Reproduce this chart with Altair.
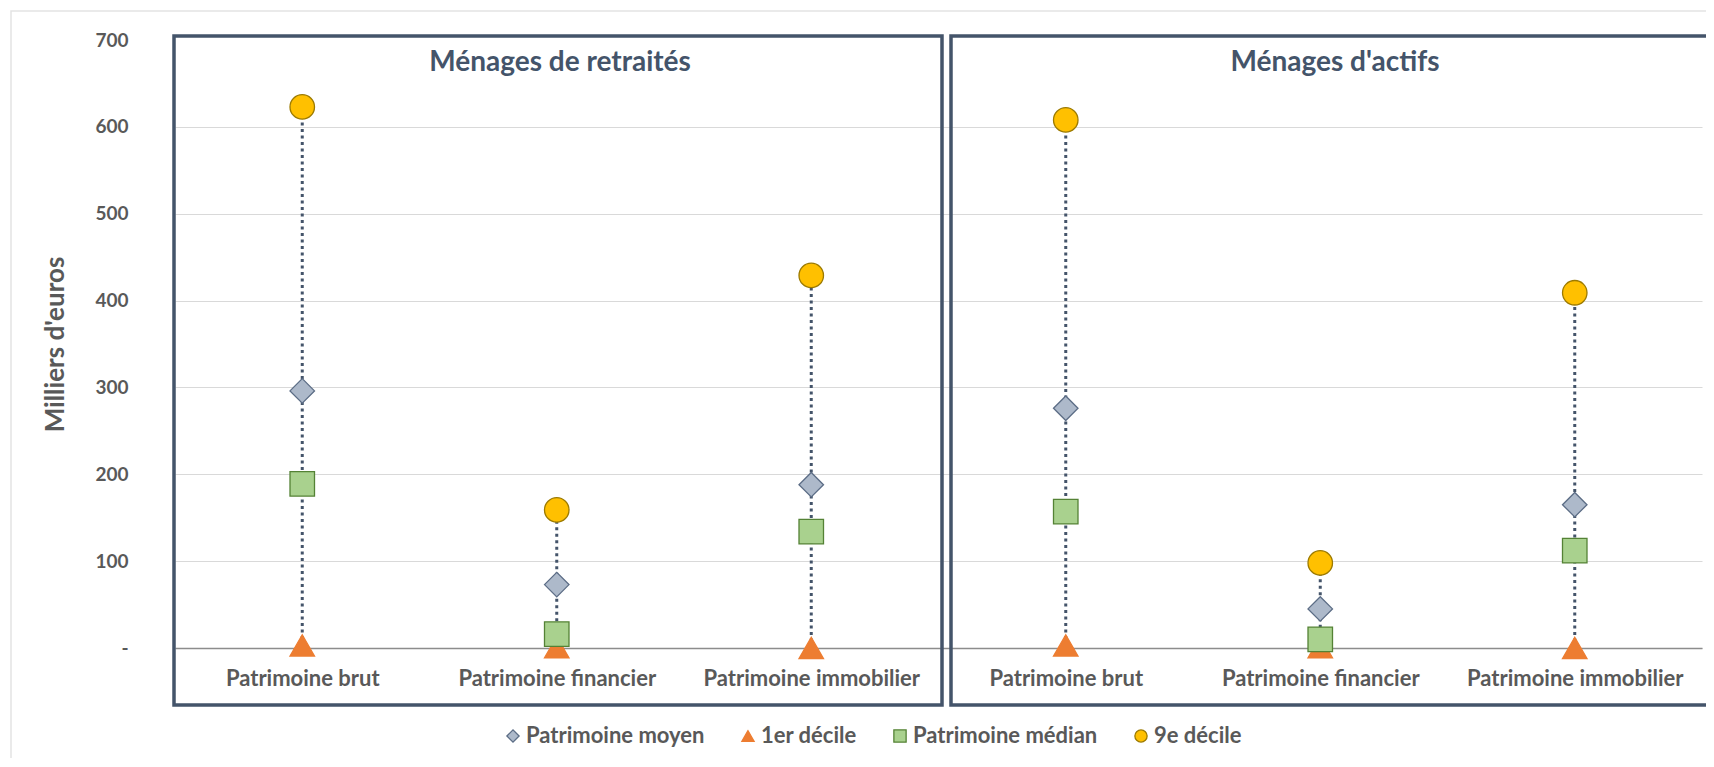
import altair as alt
import pandas as pd

# ---- data (milliers d'euros) ----
categories = ["Patrimoine brut", "Patrimoine financier", "Patrimoine immobilier"]
groups = ["Ménages de retraités", "Ménages d'actifs"]
group_keys = ["R", "A"]
series = ["Patrimoine moyen", "1er décile", "Patrimoine médian", "9e décile"]

moyen_retraites = [296, 73, 188]
moyen_actifs = [276, 45, 165]
d1_retraites = [3, 1, 0]
d1_actifs = [3, 1, 0]
median_retraites = [189, 16, 134]
median_actifs = [157, 10, 112]
d9_retraites = [623, 159, 429]
d9_actifs = [608, 98, 409]

y_ticks = [0, 100, 200, 300, 400, 500, 600, 700]

# ---- styles ----
FONT = "Lato"
TXT = "#595959"
NAVY = "#44546A"
fills = ["#ADB9CA", "#ED7D31", "#A9D18E", "#FFC000"]
strokes = ["#5B6C85", "#ED7D31", "#548235", "#9C7A00"]
shapes = ["diamond", "triangle-up", "square", "circle"]

values = {
    "R": [moyen_retraites, d1_retraites, median_retraites, d9_retraites],
    "A": [moyen_actifs, d1_actifs, median_actifs, d9_actifs],
}

rows, rule_rows, order = [], [], []
for gk in group_keys:
    for ci, cat in enumerate(categories):
        key = f"{gk}|{cat}"
        order.append(key)
        for si, s in enumerate(series):
            rows.append({"key": key, "serie": s, "valeur": values[gk][si][ci]})
        rule_rows.append({"key": key, "bas": values[gk][1][ci], "haut": values[gk][3][ci]})
pts = pd.DataFrame(rows)
rules = pd.DataFrame(rule_rows)

xscale = alt.Scale(type="point", domain=order, padding=0.5)
yscale = alt.Scale(domain=[0, 700], nice=False)

x_axis = alt.Axis(
    title=None, labelExpr="split(datum.label, '|')[1]", labelAngle=0,
    labelFont=FONT, labelFontSize=22, labelFontWeight="bold", labelColor=TXT,
    labelPadding=20, labelLimit=0, ticks=False, domainColor="#8C8C8C", domainWidth=1.5, grid=False,
)
y_axis = alt.Axis(
    title="Milliers d'euros", values=y_ticks,
    labelExpr="datum.value == 0 ? '-' : datum.label",
    labelFont=FONT, labelFontSize=19, labelFontWeight="bold", labelColor=TXT,
    labelPadding=47, ticks=False, domain=False,
    gridColor={"condition": {"test": "datum.value >= 700", "value": "rgba(0,0,0,0)"}, "value": "#D9D9D9"},
    gridWidth=1.2,
    titleFont=FONT, titleFontSize=26, titleFontWeight="bold", titleColor=TXT, titlePadding=26,
)

rule_layer = alt.Chart(rules).mark_rule(
    color=NAVY, strokeWidth=3, strokeDash=[3, 3.5]
).encode(
    x=alt.X("key:N", scale=xscale, axis=x_axis, sort=order),
    y=alt.Y("bas:Q", scale=yscale, axis=y_axis),
    y2="haut:Q",
)

point_layer = alt.Chart(pts).mark_point(filled=True, size=600, strokeWidth=1.3, opacity=1).encode(
    x=alt.X("key:N", scale=xscale, sort=order),
    y=alt.Y("valeur:Q", scale=yscale),
    shape=alt.Shape("serie:N", scale=alt.Scale(domain=series, range=shapes), legend=alt.Legend(title=None)),
    fill=alt.Fill("serie:N", scale=alt.Scale(domain=series, range=fills), legend=alt.Legend(title=None)),
    stroke=alt.Stroke("serie:N", scale=alt.Scale(domain=series, range=strokes), legend=alt.Legend(title=None)),
    order=alt.Order("ordre:Q"),
).transform_calculate(
    ordre="indexof(['Patrimoine moyen','1er décile','Patrimoine médian','9e décile'], datum.serie) == 1 ? 0 : 1"
)

dummy = pd.DataFrame({"a": [0]})
frame_left = alt.Chart(dummy).mark_rect(fill=None, stroke=NAVY, strokeWidth=3.5).encode(
    x=alt.value(-1), x2=alt.value(767), y=alt.value(-4), y2=alt.value(665)
)
frame_right = alt.Chart(dummy).mark_rect(fill=None, stroke=NAVY, strokeWidth=3.5).encode(
    x=alt.value(776), x2=alt.value(1600), y=alt.value(-4), y2=alt.value(665)
)
outer = alt.Chart(dummy).mark_rect(fill=None, stroke="#E3E3E3", strokeWidth=1.5).encode(
    x=alt.value(-164), x2=alt.value(1600), y=alt.value(-29), y2=alt.value(760)
)

title_df = pd.DataFrame({"g": groups, "i": [0, 1]})
title_left = alt.Chart(title_df).transform_filter("datum.i == 0").mark_text(
    font=FONT, fontSize=28, fontWeight="bold", color=NAVY
).encode(text="g:N", x=alt.value(385), y=alt.value(23))
title_right = alt.Chart(title_df).transform_filter("datum.i == 1").mark_text(
    font=FONT, fontSize=28, fontWeight="bold", color=NAVY
).encode(text="g:N", x=alt.value(1160), y=alt.value(23))

chart = alt.layer(
    outer, rule_layer, point_layer, frame_left, frame_right, title_left, title_right
).properties(
    width=1527, height=608,
    autosize=alt.AutoSizeParams(type="none"),
    padding={"left": 167, "top": 32, "right": 4, "bottom": 110},
).configure_view(stroke=None).configure_legend(
    orient="none", legendX=327, legendY=685, direction="horizontal",
    labelFont=FONT, labelFontSize=22, labelFontWeight="bold", labelColor=TXT, labelLimit=0,
    symbolSize=150, symbolStrokeWidth=1.3, columnPadding=32, labelOffset=2,
)

chart.save("out.html", embed_options={"renderer": "svg", "actions": False})
